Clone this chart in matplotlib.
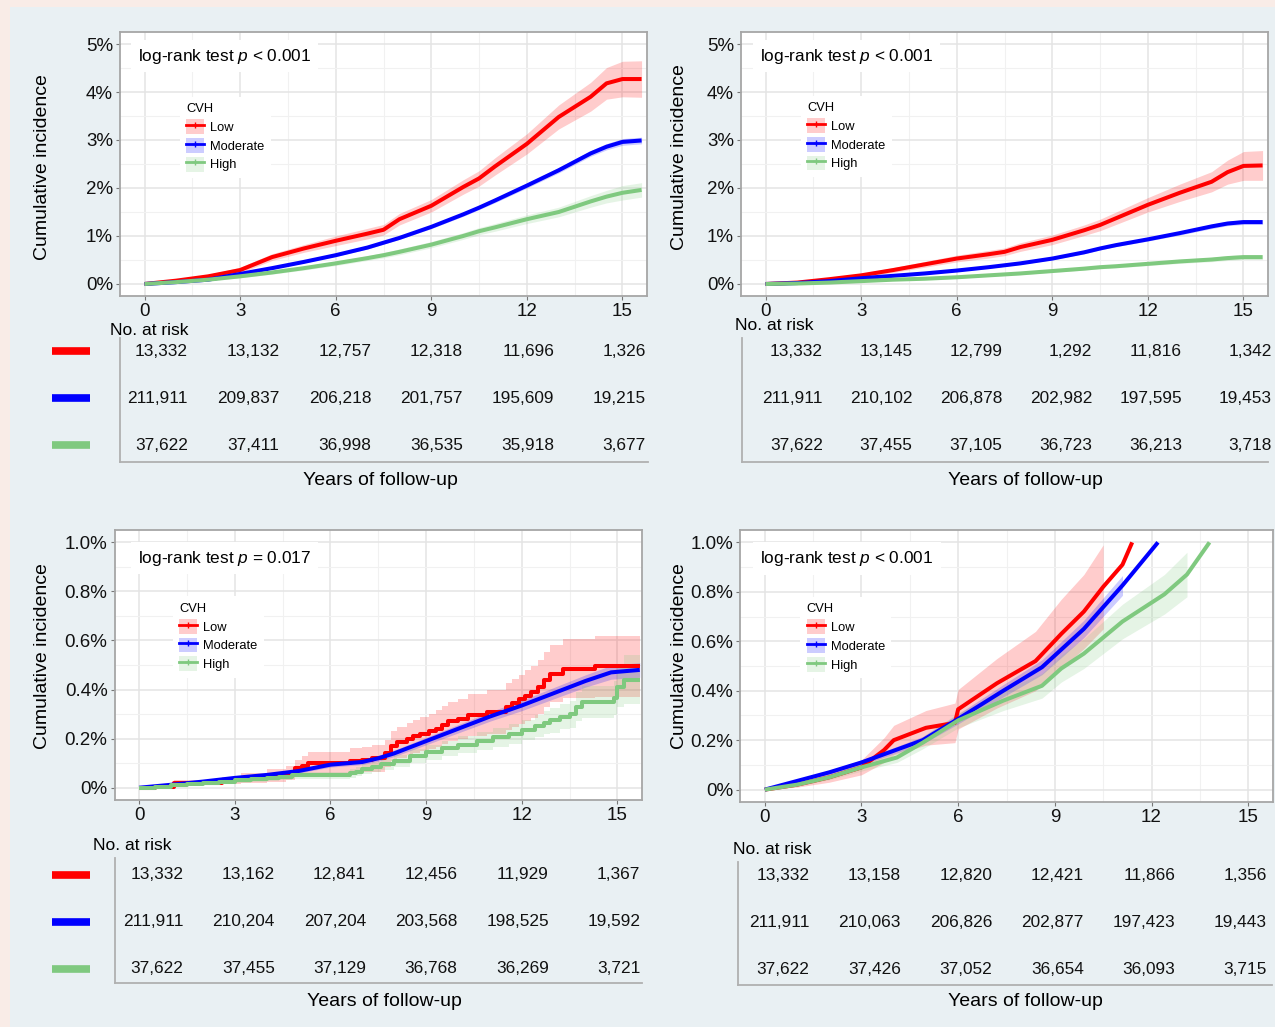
import matplotlib
matplotlib.use("Agg")
import matplotlib.pyplot as plt
from matplotlib.patches import Patch, Rectangle
from matplotlib.lines import Line2D
from matplotlib import transforms

plt.rcParams['font.family'] = ['Liberation Sans', 'DejaVu Sans']
plt.rcParams['mathtext.fontset'] = 'custom'
plt.rcParams['mathtext.rm'] = 'Liberation Sans'
plt.rcParams['mathtext.it'] = 'Liberation Sans:italic'

W, H = 1275, 1027

groups = ["Low", "Moderate", "High"]
colors = ["#ff0000", "#0000ff", "#7fc97f"]
risk_times = [0, 3, 6, 9, 12, 15]

# ---- panel 1 (top left), cumulative incidence in %
p1_t = [0, 1, 2, 3, 4, 5, 6, 7, 7.5, 8, 9, 10, 10.5, 11, 12, 13, 14, 14.5, 15, 15.6]
p1_low = [0, 0.07, 0.16, 0.29, 0.56, 0.74, 0.9, 1.05, 1.13, 1.35, 1.63, 2.02, 2.2, 2.45, 2.92, 3.48, 3.9, 4.18, 4.27, 4.27]
p1_mod = [0, 0.04, 0.09, 0.21, 0.33, 0.46, 0.6, 0.76, 0.86, 0.96, 1.19, 1.45, 1.59, 1.74, 2.05, 2.37, 2.72, 2.86, 2.96, 2.99]
p1_high = [0, 0.04, 0.09, 0.16, 0.24, 0.33, 0.43, 0.54, 0.6, 0.67, 0.82, 1.0, 1.1, 1.18, 1.35, 1.5, 1.72, 1.82, 1.9, 1.96]
p1_low_ci = [0, 0.02, 0.04, 0.06, 0.07, 0.08, 0.1, 0.11, 0.11, 0.12, 0.13, 0.15, 0.16, 0.18, 0.21, 0.25, 0.3, 0.33, 0.37, 0.38]
p1_mod_ci = [0, 0.005, 0.01, 0.015, 0.02, 0.02, 0.025, 0.03, 0.03, 0.03, 0.035, 0.04, 0.04, 0.045, 0.05, 0.055, 0.06, 0.065, 0.07, 0.07]
p1_high_ci = [0, 0.01, 0.02, 0.03, 0.035, 0.04, 0.045, 0.05, 0.055, 0.06, 0.065, 0.07, 0.075, 0.08, 0.09, 0.1, 0.12, 0.13, 0.15, 0.15]
p1_risk_low = [13332, 13132, 12757, 12318, 11696, 1326]
p1_risk_mod = [211911, 209837, 206218, 201757, 195609, 19215]
p1_risk_high = [37622, 37411, 36998, 36535, 35918, 3677]

# ---- panel 2 (top right)
p2_t = [0, 1, 2, 3, 4, 5, 6, 7, 7.5, 8, 9, 10, 10.5, 11, 12, 13, 14, 14.5, 15, 15.6]
p2_low = [0, 0.03, 0.1, 0.18, 0.29, 0.41, 0.53, 0.62, 0.67, 0.77, 0.92, 1.12, 1.23, 1.37, 1.65, 1.9, 2.13, 2.33, 2.46, 2.47]
p2_mod = [0, 0.02, 0.06, 0.12, 0.17, 0.22, 0.28, 0.35, 0.39, 0.43, 0.53, 0.66, 0.74, 0.81, 0.93, 1.06, 1.2, 1.26, 1.29, 1.29]
p2_high = [0, 0.01, 0.03, 0.06, 0.09, 0.11, 0.14, 0.18, 0.2, 0.22, 0.27, 0.32, 0.35, 0.37, 0.42, 0.47, 0.51, 0.54, 0.56, 0.56]
p2_low_ci = [0, 0.01, 0.03, 0.04, 0.05, 0.06, 0.07, 0.08, 0.08, 0.09, 0.1, 0.11, 0.12, 0.13, 0.15, 0.18, 0.21, 0.25, 0.3, 0.31]
p2_mod_ci = [0, 0.003, 0.006, 0.01, 0.012, 0.015, 0.017, 0.02, 0.02, 0.02, 0.025, 0.03, 0.03, 0.03, 0.035, 0.04, 0.045, 0.045, 0.05, 0.05]
p2_high_ci = [0, 0.005, 0.01, 0.012, 0.015, 0.018, 0.02, 0.022, 0.024, 0.025, 0.028, 0.03, 0.032, 0.034, 0.037, 0.04, 0.045, 0.05, 0.05, 0.05]
p2_risk_low = [13332, 13145, 12799, 1292, 11816, 1342]
p2_risk_mod = [211911, 210102, 206878, 202982, 197595, 19453]
p2_risk_high = [37622, 37455, 37105, 36723, 36213, 3718]

# ---- panel 3 (bottom left), step curves
p3_low_t = [0, 0.5, 1.1, 2.6, 3.2, 4.0, 4.6, 4.9, 5.1, 5.3, 6.6, 7.0, 7.3, 7.7, 7.9, 8.1, 8.4, 8.6, 8.8, 9.1,
            9.3, 9.5, 9.7, 10.0, 10.3, 10.9, 11.5, 11.7, 11.9, 12.1, 12.3, 12.5, 12.7, 12.9, 13.3, 14.3, 15.7]
p3_low = [0, 0.005, 0.02, 0.03, 0.04, 0.05, 0.06, 0.08, 0.09, 0.1, 0.11, 0.115, 0.12, 0.14, 0.17, 0.185, 0.2, 0.21, 0.22, 0.23,
          0.24, 0.255, 0.27, 0.28, 0.295, 0.31, 0.33, 0.345, 0.36, 0.375, 0.39, 0.41, 0.44, 0.465, 0.485, 0.495, 0.495]
p3_low_ci = [0, 0.005, 0.01, 0.015, 0.02, 0.025, 0.03, 0.035, 0.04, 0.045, 0.05, 0.05, 0.055, 0.055, 0.06, 0.062, 0.065, 0.067, 0.07, 0.072,
             0.075, 0.078, 0.08, 0.083, 0.086, 0.09, 0.095, 0.098, 0.1, 0.103, 0.106, 0.11, 0.113, 0.117, 0.12, 0.125, 0.125]
p3_mod_t = [0, 1, 2, 3, 4, 5, 6, 7, 7.5, 8, 9, 10, 11, 12, 13, 14, 14.8, 15.7]
p3_mod = [0, 0.012, 0.025, 0.04, 0.052, 0.068, 0.094, 0.105, 0.12, 0.14, 0.19, 0.24, 0.29, 0.335, 0.385, 0.435, 0.47, 0.48]
p3_mod_ci = [0, 0.003, 0.005, 0.006, 0.007, 0.008, 0.01, 0.011, 0.012, 0.013, 0.015, 0.017, 0.019, 0.021, 0.023, 0.025, 0.028, 0.03]
p3_high_t = [0, 0.5, 1, 1.5, 2, 2.5, 3, 3.5, 4, 4.4, 4.8, 6.6, 6.8, 7, 7.3, 7.6, 8, 8.5, 9, 9.5,
             10, 10.6, 11.1, 11.6, 12, 12.4, 12.7, 12.9, 13.2, 13.5, 13.7, 13.9, 14.9, 15.0, 15.2, 15.7]
p3_high = [0, 0.005, 0.01, 0.015, 0.02, 0.025, 0.03, 0.035, 0.04, 0.045, 0.05, 0.058, 0.065, 0.075, 0.085, 0.095, 0.11, 0.13, 0.145, 0.16,
           0.175, 0.19, 0.205, 0.22, 0.235, 0.25, 0.265, 0.275, 0.29, 0.3, 0.33, 0.35, 0.365, 0.41, 0.44, 0.44]
p3_high_ci = [0, 0.003, 0.005, 0.006, 0.008, 0.009, 0.01, 0.011, 0.012, 0.013, 0.015, 0.017, 0.018, 0.02, 0.021, 0.022, 0.025, 0.028, 0.03, 0.032,
              0.034, 0.036, 0.038, 0.04, 0.042, 0.045, 0.047, 0.05, 0.052, 0.055, 0.06, 0.065, 0.07, 0.08, 0.1, 0.1]
p3_risk_low = [13332, 13162, 12841, 12456, 11929, 1367]
p3_risk_mod = [211911, 210204, 207204, 203568, 198525, 19592]
p3_risk_high = [37622, 37455, 37129, 36768, 36269, 3721]

# ---- panel 4 (bottom right), curves stop at the 1% limit
p4_low_t = [0, 1, 2, 3, 3.7, 4, 5, 5.9, 6.0, 7.2, 8.4, 9.2, 9.9, 10.5, 11.1, 11.4]
p4_low = [0, 0.02, 0.05, 0.09, 0.16, 0.2, 0.25, 0.27, 0.325, 0.43, 0.52, 0.63, 0.72, 0.82, 0.91, 1.0]
p4_low_ci = [0, 0.01, 0.02, 0.03, 0.05, 0.06, 0.07, 0.08, 0.08, 0.1, 0.12, 0.14, 0.15, 0.17, 0.19, 0.2]
p4_mod_t = [0, 1, 2, 3, 4.9, 6, 7.4, 8.6, 9.9, 11.1, 12.2]
p4_mod = [0, 0.035, 0.07, 0.11, 0.2, 0.286, 0.4, 0.495, 0.65, 0.826, 1.0]
p4_mod_ci = [0, 0.005, 0.008, 0.01, 0.015, 0.02, 0.025, 0.03, 0.035, 0.04, 0.045]
p4_high_t = [0, 1, 2, 3, 4.1, 4.9, 6, 7.4, 8.6, 9.2, 9.9, 11.1, 12.4, 13.1, 13.8]
p4_high = [0, 0.02, 0.05, 0.09, 0.13, 0.19, 0.28, 0.36, 0.42, 0.49, 0.55, 0.68, 0.79, 0.87, 1.0]
p4_high_ci = [0, 0.005, 0.01, 0.015, 0.02, 0.025, 0.03, 0.04, 0.05, 0.055, 0.06, 0.07, 0.08, 0.09, 0.1]
p4_risk_low = [13332, 13158, 12820, 12421, 11866, 1356]
p4_risk_mod = [211911, 210063, 206826, 202877, 197423, 19443]
p4_risk_high = [37622, 37426, 37052, 36654, 36093, 3715]

pct_ticks_5 = [0, 1, 2, 3, 4, 5]
pct_labels_5 = ["0%", "1%", "2%", "3%", "4%", "5%"]
pct_ticks_1 = [0, 0.2, 0.4, 0.6, 0.8, 1.0]
pct_labels_1 = ["0%", "0.2%", "0.4%", "0.6%", "0.8%", "1.0%"]


def fig_box(left, top, right, bottom):
    # pixel box -> figure fraction rect
    return [left / W, 1 - bottom / H, (right - left) / W, (bottom - top) / H]


def draw_curves(ax, series, ymax):
    for (t, v, ci, step), c in zip(series, colors):
        lo = [a - b for a, b in zip(v, ci)]
        hi = [a + b for a, b in zip(v, ci)]
        # ggplot drops ribbon rows outside the y limits
        keep = [h <= ymax for h in hi]
        tk = [x for x, k in zip(t, keep) if k]
        lk = [x for x, k in zip(lo, keep) if k]
        hk = [x for x, k in zip(hi, keep) if k]
        ax.fill_between(tk, lk, hk, color=c, alpha=0.2, lw=0,
                        step='post' if step else None)
    for (t, v, ci, step), c in zip(series, colors):
        ax.plot(t, v, color=c, lw=2.9, solid_capstyle='butt',
                drawstyle='steps-post' if step else 'default')


def draw_panel(box, ylim, yticks, ylabels, series, ptext, leg_xy, text_xy, ylab_xy):
    ax = fig.add_axes(fig_box(*box))
    ax.set_facecolor('white')
    ax.set_xlim(-0.77, 15.77)
    ax.set_ylim(*ylim)
    ax.set_xticks(risk_times)
    ax.set_xticks([1.5, 4.5, 7.5, 10.5, 13.5], minor=True)
    ax.set_yticks(yticks)
    ax.set_yticklabels(ylabels)
    step = yticks[1] / 2
    ax.set_yticks([y + step for y in yticks[:-1]], minor=True)
    ax.grid(which='major', color='#e4e4e4', lw=1.1)
    ax.grid(which='minor', color='#f1f1f1', lw=0.8)
    ax.set_axisbelow(True)
    ax.tick_params(which='major', length=3, width=0.8, color='#777777',
                   labelsize=13.5, pad=2, labelcolor='#111111')
    ax.tick_params(which='minor', length=0)
    for s in ax.spines.values():
        s.set_color('#a6a6a6')
        s.set_linewidth(1.3)

    draw_curves(ax, series, ylim[1] - 0.05 * (yticks[-1]))

    ax.text(text_xy[0], text_xy[1], ptext, transform=ax.transAxes, fontsize=12.4,
            ha='left', va='center', zorder=5,
            bbox=dict(facecolor='white', edgecolor='none', pad=5))
    ax.text(ylab_xy[0], ylab_xy[1], "Cumulative incidence", transform=ax.transAxes,
            rotation=90, ha='center', va='center', fontsize=14)

    handles = [(Patch(facecolor=c, alpha=0.2, edgecolor='none'),
                Line2D([], [], color=c, lw=2, marker='+', ms=5)) for c in colors]
    ax.legend(handles, groups, title='CVH', loc='upper left', bbox_to_anchor=leg_xy,
              fontsize=9.3, title_fontsize=9.3, frameon=True, facecolor='white',
              edgecolor='none', framealpha=1, fancybox=False, handlelength=1.4,
              handleheight=1.4, labelspacing=0.3, handletextpad=0.45,
              borderpad=0.5, borderaxespad=0, alignment='left')
    return ax


def draw_table(box, txlim, tylim, rows, show_bars, nar_px, xlab_px):
    tab = fig.add_axes(fig_box(*box))
    tab.set_facecolor('none')
    tab.set_xlim(*txlim)
    tab.set_ylim(*tylim)
    tab.set_xticks([])
    tab.set_yticks([])
    for side in ['top', 'right']:
        tab.spines[side].set_visible(False)
    for side in ['left', 'bottom']:
        tab.spines[side].set_color('#b0b0b0')
        tab.spines[side].set_linewidth(1.3)

    for i, counts in enumerate(rows):
        for t, n in zip(risk_times, counts):
            tab.text(t, i, f"{n:,}", ha='right', va='center', fontsize=12.4,
                     color='#111111', clip_on=False)

    if show_bars:
        tr = transforms.blended_transform_factory(fig.transFigure, tab.transData)
        for i, c in enumerate(colors):
            tab.plot([52 / W, 90 / W], [i, i], color=c, lw=5.5, transform=tr,
                     clip_on=False, solid_capstyle='butt')

    fig.text(nar_px[0] / W, 1 - nar_px[1] / H, "No. at risk", fontsize=12.5,
             ha='left', va='center')
    fig.text(xlab_px[0] / W, 1 - xlab_px[1] / H, "Years of follow-up", fontsize=14,
             ha='center', va='center')


fig = plt.figure(figsize=(W / 100, H / 100), dpi=100)
fig.patch.set_facecolor('#e9f0f3')
# thin pink frame on top and left
fig.add_artist(Rectangle((0, 1 - 7 / H), 1, 7 / H, transform=fig.transFigure,
                         facecolor='#f9ece7', edgecolor='none'))
fig.add_artist(Rectangle((0, 0), 10 / W, 1, transform=fig.transFigure,
                         facecolor='#f9ece7', edgecolor='none'))

txt_001 = "log-rank test $p$ < 0.001"
txt_017 = "log-rank test $p$ = 0.017"

# panel 1
draw_panel((120, 32, 647, 296), (-0.25, 5.25), pct_ticks_5, pct_labels_5,
           [(p1_t, p1_low, p1_low_ci, False), (p1_t, p1_mod, p1_mod_ci, False),
            (p1_t, p1_high, p1_high_ci, False)],
           txt_001, (0.113, 0.755), (0.034, 0.909), (-0.148, 0.49))
draw_table((120, 338, 648, 462), (-2.23, 15.07), (2.36, -0.28),
           [p1_risk_low, p1_risk_mod, p1_risk_high], True, (110, 330), (380, 480))

# panel 2
draw_panel((741, 32, 1268, 296), (-0.25, 5.25), pct_ticks_5, pct_labels_5,
           [(p2_t, p2_low, p2_low_ci, False), (p2_t, p2_mod, p2_mod_ci, False),
            (p2_t, p2_high, p2_high_ci, False)],
           txt_001, (0.113, 0.759), (0.036, 0.909), (-0.116, 0.527))
draw_table((742, 338, 1268, 462), (-2.7, 14.87), (2.36, -0.28),
           [p2_risk_low, p2_risk_mod, p2_risk_high], False, (735, 326), (1025, 480))

# panel 3
draw_panel((114.5, 530, 642, 800), (-0.05, 1.05), pct_ticks_1, pct_labels_1,
           [(p3_low_t, p3_low, p3_low_ci, True), (p3_mod_t, p3_mod, p3_mod_ci, False),
            (p3_high_t, p3_high, p3_high_ci, True)],
           txt_017, (0.11, 0.754), (0.045, 0.896), (-0.137, 0.533))
draw_table((115, 858, 642, 983), (-2.25, 15.06), (2.3, -0.36),
           [p3_risk_low, p3_risk_mod, p3_risk_high], True, (93, 845), (384, 1002))

# panel 4
draw_panel((740, 530, 1273, 802), (-0.05, 1.05), pct_ticks_1, pct_labels_1,
           [(p4_low_t, p4_low, p4_low_ci, False), (p4_mod_t, p4_mod, p4_mod_ci, False),
            (p4_high_t, p4_high, p4_high_ci, False)],
           txt_001, (0.113, 0.754), (0.038, 0.896), (-0.113, 0.537))
draw_table((738, 862, 1272, 985), (-2.33, 15.16), (2.34, -0.28),
           [p4_risk_low, p4_risk_mod, p4_risk_high], False, (733, 850), (1025, 1002))

fig.savefig("out.png", dpi=100, facecolor=fig.get_facecolor())
